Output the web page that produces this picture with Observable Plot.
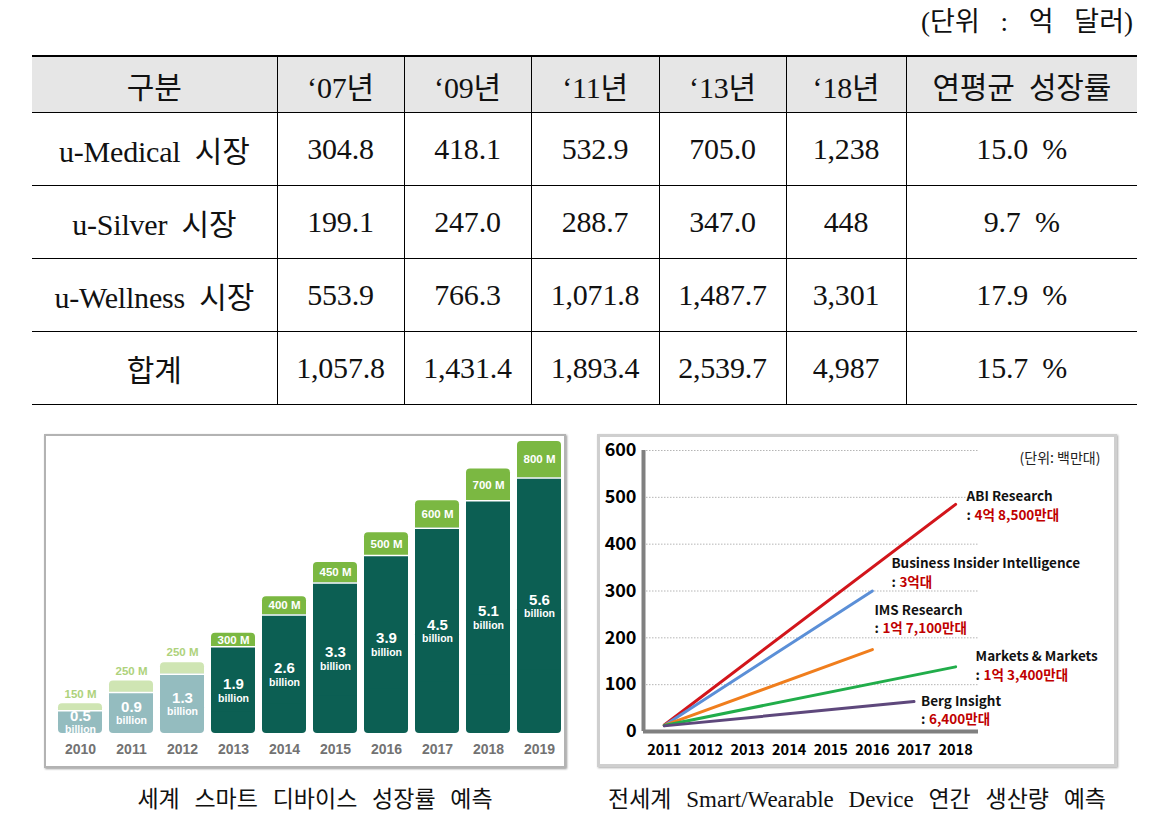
<!DOCTYPE html>
<html><head><meta charset="utf-8">
<script src="https://cdn.jsdelivr.net/npm/d3@7"></script>
<script src="https://cdn.jsdelivr.net/npm/@observablehq/plot@0.6"></script>
<style>
html,body{margin:0;padding:0;background:#fff;}
body{width:1158px;height:817px;position:relative;overflow:hidden;font-family:"Liberation Serif","Noto Sans CJK KR",serif;color:#111;}
#unit{position:absolute;right:25px;top:0px;font-size:27px;word-spacing:14px;white-space:pre;}
#tbl{position:absolute;left:32px;top:55px;width:1105px;border-collapse:collapse;table-layout:fixed;font-size:30px;letter-spacing:-0.2px;}
#tbl th,#tbl td{border:1.5px solid #000;text-align:center;padding:0;font-weight:normal;white-space:pre;word-spacing:7px;}
#tbl tr>*:first-child{border-left:none;}
#tbl tr>*:last-child{border-right:none;}
#tbl th{background:#e6e6e6;height:55px;border-top:2px solid #000;}
#tbl td{height:72px;}
.frame{position:absolute;background:#fff;}
#c1{left:44px;top:434px;border:2px solid #b3b3b3;box-shadow:1px 1px 2px #999;}
#c2{left:597px;top:434px;border:3px solid #cfcfcf;box-shadow:1px 1px 2px #aaa;}
.frame svg{display:block;}
.cap{position:absolute;top:780px;font-size:23px;word-spacing:9px;white-space:pre;transform:translateX(-50%);}
</style></head>
<body>
<div id="unit"></div>
<table id="tbl"></table>
<div class="frame" id="c1"></div>
<div class="frame" id="c2"></div>
<div class="cap" id="cap1" style="left:315px"></div>
<div class="cap" id="cap2" style="left:857px"></div>
<script>
// ---------- table data ----------
const unitNote = "(단위 : 억 달러)";
const tableHeader = ["구분", "‘07년", "‘09년", "‘11년", "‘13년", "‘18년", "연평균 성장률"];
const marketNames = ["u-Medical 시장", "u-Silver 시장", "u-Wellness 시장", "합계"];
const value07 = ["304.8", "199.1", "553.9", "1,057.8"];
const value09 = ["418.1", "247.0", "766.3", "1,431.4"];
const value11 = ["532.9", "288.7", "1,071.8", "1,893.4"];
const value13 = ["705.0", "347.0", "1,487.7", "2,539.7"];
const value18 = ["1,238", "448", "3,301", "4,987"];
const growthRate = ["15.0 %", "9.7 %", "17.9 %", "15.7 %"];

// ---------- chart 1 data ----------
const deviceYears = [2010, 2011, 2012, 2013, 2014, 2015, 2016, 2017, 2018, 2019];
const smartDevicesBillion = [0.5, 0.9, 1.3, 1.9, 2.6, 3.3, 3.9, 4.5, 5.1, 5.6];
const wearablesMillion = [150, 250, 250, 300, 400, 450, 500, 600, 700, 800];
const lastActualYear = 2012;
const caption1 = "세계 스마트 디바이스 성장률 예측";

// ---------- chart 2 data ----------
const forecastYears = [2011, 2012, 2013, 2014, 2015, 2016, 2017, 2018];
const forecastSources = ["ABI Research", "Business Insider Intelligence", "IMS Research", "Markets & Markets", "Berg Insight"];
const startValue = [14, 13, 13, 13, 12];
const endYear = [2018, 2016, 2016, 2018, 2017];
const endValue = [485, 300, 175, 138, 64];
const endLabel = ["4억 8,500만대", "3억대", "1억 7,100만대", "1억 3,400만대", "6,400만대"];
const yTicks2 = [0, 100, 200, 300, 400, 500, 600];
const unitNote2 = "(단위: 백만대)";
const caption2 = "전세계 Smart/Wearable Device 연간 생산량 예측";

// ---------- table ----------
document.getElementById("unit").textContent = unitNote;
const tbl = d3.select("#tbl");
const cg = tbl.append("colgroup");
[245, 127, 127, 128, 127, 120, 231].forEach(w => cg.append("col").style("width", w + "px"));
tbl.append("tr").selectAll("th").data(tableHeader).join("th").text(d => d);
marketNames.forEach((name, i) => {
  const cells = [name, value07[i], value09[i], value11[i], value13[i], value18[i], growthRate[i]];
  tbl.append("tr").selectAll("td").data(cells).join("td").text(d => d);
});
document.getElementById("cap1").textContent = caption1;
document.getElementById("cap2").textContent = caption2;

// ---------- chart 1 ----------
const devColors = {dark: "#0c5f53", darkCap: "#7bb842", light: "#94bcbf", lightCap: "#cfe5b3", lightLabel: "#aed27c"};
const rows1 = deviceYears.map((year, i) => ({
  year,
  billion: smartDevicesBillion[i],
  m: wearablesMillion[i],
  total: smartDevicesBillion[i] + wearablesMillion[i] / 1000,
  past: year <= lastActualYear
}));
const future1 = rows1.filter(d => !d.past);
const past1 = rows1.filter(d => d.past);
const base = d => d.past ? devColors.light : devColors.dark;
const capc = d => d.past ? devColors.lightCap : devColors.darkCap;
const narrow = "Liberation Sans Narrow, Liberation Sans, sans-serif";

const chart1 = Plot.plot({
  width: 518, height: 330,
  marginLeft: 10.7, marginRight: 2, marginTop: 5, marginBottom: 33,
  x: {type: "band", domain: deviceYears, paddingInner: 0.144, paddingOuter: 0, axis: null},
  y: {domain: [0, 6.4], axis: null},
  color: {type: "identity"},
  style: {fontFamily: "Liberation Sans, Arial, sans-serif", background: "white", overflow: "visible"},
  marks: [
    Plot.barY(rows1, {x: "year", y1: d => d.billion * 0.5, y2: "total", fill: capc, rx: 4}),
    Plot.barY(rows1, {x: "year", y1: 0, y2: d => d.billion * 0.5, fill: base, rx: 4}),
    Plot.barY(rows1, {x: "year", y1: d => d.billion * 0.25, y2: "billion", fill: base}),
    Plot.tickY(rows1, {x: "year", y: "billion", stroke: "white", strokeWidth: 1.5}),
    Plot.text(rows1, {x: "year", y: d => d.billion / 2, text: d => d.billion.toFixed(1), dy: -6, fill: "white", fontSize: 15, fontWeight: "bold"}),
    Plot.text(rows1, {x: "year", y: d => d.billion / 2, text: () => "billion", dy: 8, fill: "white", fontSize: 10.5, fontFamily: narrow, fontWeight: "bold"}),
    Plot.text(future1, {x: "year", y: d => d.billion + d.m / 2000, text: d => d.m + " M", fill: "white", fontSize: 11.5, fontWeight: "bold", fontFamily: narrow}),
    Plot.text(past1, {x: "year", y: "total", dy: -10, text: d => d.m + " M", fill: devColors.lightLabel, fontSize: 11.5, fontWeight: "bold", fontFamily: narrow}),
    Plot.text(rows1, {x: "year", frameAnchor: "bottom", dy: 20, text: d => String(d.year), fill: "#727272", fontSize: 14, fontWeight: "bold"})
  ]
});
document.getElementById("c1").appendChild(chart1);

// ---------- chart 2 ----------
const lineColors = ["#d2151b", "#5b8fd7", "#f07e1d", "#21ad4a", "#5e487c"];
const lineRows = forecastSources.flatMap((source, i) => [
  {source, year: forecastYears[0], value: startValue[i], color: lineColors[i]},
  {source, year: endYear[i], value: endValue[i], color: lineColors[i]}
]);
// label placement (pixel offsets from each series' end point)
const labelOffset = [
  {dx: 11, dy1: -8, dy2: 11},
  {dx: 19, dy1: -27, dy2: -8},
  {dx: 2, dy1: -39, dy2: -21},
  {dx: 20, dy1: -10, dy2: 9},
  {dx: 7, dy1: 0, dy2: 18}
];
const labelFont = "Noto Sans CJK KR, Liberation Sans, sans-serif";
const labelMarks = forecastSources.flatMap((source, i) => {
  const p = [{year: endYear[i], value: endValue[i]}];
  const o = labelOffset[i];
  return [
    Plot.text(p, {x: "year", y: "value", text: () => source, dx: o.dx, dy: o.dy1, textAnchor: "start", fill: "#111", fontSize: 13.5, fontWeight: "bold", fontFamily: labelFont}),
    Plot.text(p, {x: "year", y: "value", text: () => ":", dx: o.dx, dy: o.dy2, textAnchor: "start", fill: "#111", fontSize: 13.5, fontWeight: "bold", fontFamily: labelFont}),
    Plot.text(p, {x: "year", y: "value", text: () => endLabel[i], dx: o.dx + 8, dy: o.dy2, textAnchor: "start", fill: "#c00000", fontSize: 13.5, fontWeight: "bold", fontFamily: labelFont})
  ];
});
const xStart = 2010.5;
const chart2 = Plot.plot({
  width: 514, height: 327,
  marginLeft: 43, marginRight: 136, marginTop: 13, marginBottom: 33,
  x: {domain: [xStart, 2018.55]},
  y: {domain: [0, 600]},
  color: {type: "identity"},
  style: {fontFamily: labelFont, background: "white", overflow: "visible"},
  marks: [
    Plot.ruleY(yTicks2.slice(1), {stroke: "#b5b5b5", strokeDasharray: "1.5,1.5", strokeWidth: 1}),
    Plot.line(lineRows, {x: "year", y: "value", z: "source", stroke: "color", strokeWidth: 3, strokeLinecap: "round"}),
    Plot.ruleY([0], {stroke: "#808080", strokeWidth: 4}),
    Plot.ruleX([xStart], {y1: 0, y2: 600, stroke: "#808080", strokeWidth: 4}),
    Plot.axisY(yTicks2, {tickSize: 0, tickPadding: 7, fontSize: 18, fontWeight: "bold", fill: "#000", label: null}),
    Plot.axisX(forecastYears, {tickSize: 0, tickPadding: 13, tickFormat: d => String(d), fontSize: 14.5, fontWeight: "bold", fill: "#000", label: null}),
    Plot.text([unitNote2], {frameAnchor: "top-right", dx: 122, dy: 3, text: d => d, textAnchor: "end", fill: "#222", fontSize: 14}),
    ...labelMarks
  ]
});
document.getElementById("c2").appendChild(chart2);
</script>
</body></html>
